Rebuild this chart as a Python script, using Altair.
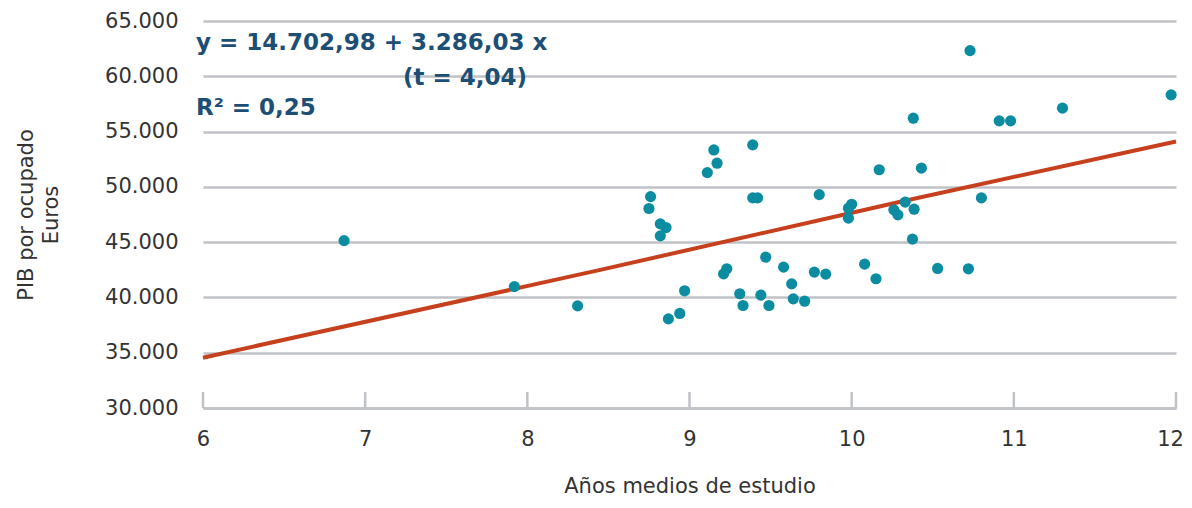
import altair as alt
import pandas as pd

# Scatter data (años medios de estudio, PIB por ocupado)
years = [6.87, 7.92, 8.31, 8.76, 8.75, 8.82, 8.855, 8.82, 8.87, 8.94, 8.97,
         9.11, 9.15, 9.17, 9.21, 9.23, 9.31, 9.33, 9.39, 9.39, 9.42, 9.44,
         9.47, 9.49, 9.58, 9.63, 9.64, 9.71, 9.77, 9.80, 9.84, 9.98, 9.98,
         10.00, 10.08, 10.15, 10.17, 10.26, 10.285, 10.33, 10.375, 10.385,
         10.38, 10.43, 10.53, 10.72, 10.73, 10.80, 10.91, 10.98, 11.30, 11.97]
gdp = [45140, 40980, 39240, 49120, 48040, 46650, 46320, 45570, 38060, 38550, 40600,
       51290, 53340, 52140, 42130, 42590, 40330, 39270, 53800, 49000, 49000, 40210,
       43640, 39270, 42740, 41230, 39870, 39660, 42290, 49300, 42110, 47170, 48070,
       48430, 43010, 41690, 51550, 47920, 47470, 48620, 45270, 47980,
       56210, 51690, 42620, 42590, 62320, 49000, 55970, 55970, 57120, 58320]

# Trend line
trend_x = [6, 8.45, 10.3, 12]
trend_y = [34550, 42490, 48650, 54100]

x_ticks = [6, 7, 8, 9, 10, 11, 12]
y_ticks = [30000, 35000, 40000, 45000, 50000, 55000, 60000, 65000]

eq_text = ["y = 14.702,98 + 3.286,03 x"]
t_text = ["(t = 4,04)"]
r2_text = ["R² = 0,25"]

W, H = 973, 387
FONT = "DejaVu Sans"
GRID = "#bfc2c7"

pts = pd.DataFrame({"x": years, "y": gdp})
trend = pd.DataFrame({"x": trend_x, "y": trend_y})
ticks = pd.DataFrame({"x": x_ticks})

xscale = alt.Scale(domain=[6, 12], nice=False, zero=False)
yscale = alt.Scale(domain=[30000, 65000], nice=False, zero=False)

xaxis = alt.Axis(values=x_ticks, format="d", title="Años medios de estudio", grid=False,
                 ticks=False, domainColor=GRID, domainWidth=2.5, labelFlush=False,
                 labelOffset={"condition": {"test": "datum.value == 12", "value": -6}, "value": 0},
                 labelFont=FONT, labelFontSize=21, labelColor="#333333",
                 labelPadding=20, titleFont=FONT, titleFontSize=21,
                 titleFontWeight="normal", titleColor="#333333", titlePadding=26)
yaxis = alt.Axis(values=y_ticks, title=["PIB por ocupado", "Euros"],
                 labelExpr="replace(format(datum.value, ','), ',', '.')",
                 grid=True, gridColor=GRID, gridWidth=2.5, domain=False,
                 ticks=False, labelFont=FONT, labelFontSize=21,
                 labelColor="#333333", labelPadding=25, titleFont=FONT,
                 titleFontSize=21, titleFontWeight="normal", titleColor="#333333",
                 titlePadding=43, titleLineHeight=25)

base_pts = alt.Chart(pts).mark_circle(size=125, opacity=1, color="#0b8ca0").encode(
    x=alt.X("x:Q", scale=xscale, axis=xaxis),
    y=alt.Y("y:Q", scale=yscale, axis=yaxis),
)

tick_rules = alt.Chart(ticks).mark_rule(color=GRID, strokeWidth=2.5).encode(
    x=alt.X("x:Q", scale=xscale),
    y=alt.value(H - 16),
    y2=alt.value(H),
)

line = alt.Chart(trend).mark_line(color="#c6401d", strokeWidth=4).encode(
    x=alt.X("x:Q", scale=xscale),
    y=alt.Y("y:Q", scale=yscale),
)

TXT = dict(font=FONT, fontSize=23, fontWeight="bold", color="#1d4e73", baseline="middle")
eq = alt.Chart(pd.DataFrame({"t": eq_text})).mark_text(align="left", **TXT).encode(
    text="t:N", x=alt.value(-7), y=alt.value(22))
tt = alt.Chart(pd.DataFrame({"t": t_text})).mark_text(align="right", **TXT).encode(
    text="t:N", x=alt.value(324), y=alt.value(57))
r2 = alt.Chart(pd.DataFrame({"t": r2_text})).mark_text(align="left", **TXT).encode(
    text="t:N", x=alt.value(-7), y=alt.value(87))

chart = alt.layer(tick_rules, line, base_pts, eq, tt, r2).properties(
    width=W, height=H,
    autosize=alt.AutoSizeParams(type="none"),
    padding={"left": 195, "top": 13, "right": 8, "bottom": 88},
).configure(background="white").configure_view(stroke=None)

chart.save("out.html", embed_options={"renderer": "svg", "actions": False})
